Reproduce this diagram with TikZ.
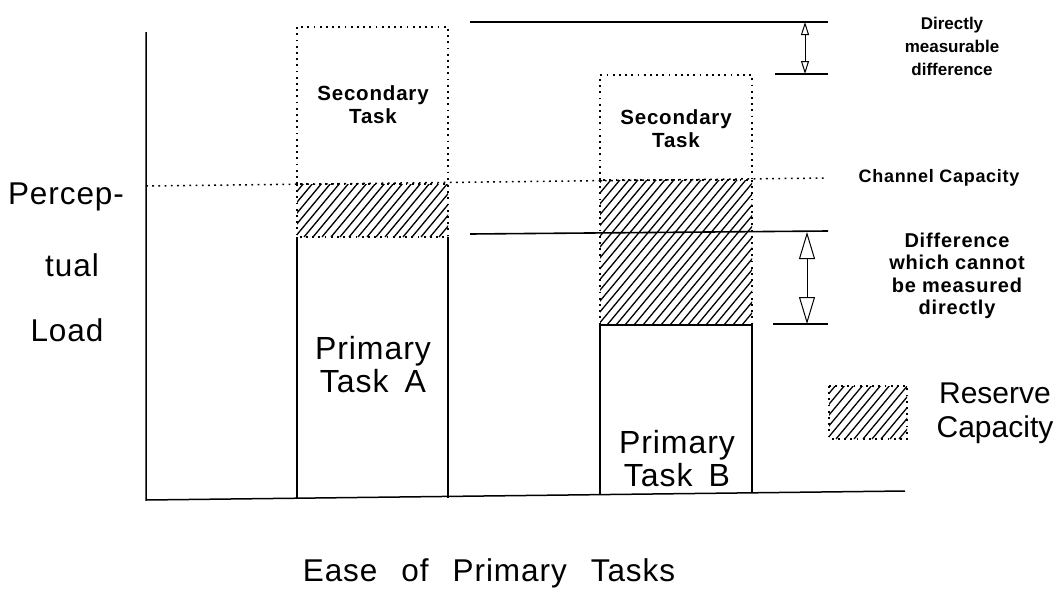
\documentclass[tikz,border=0pt]{standalone}
\usepackage{fontspec}
\setmainfont{Liberation Sans}
\newfontfamily\widefont[LetterSpace=3]{Liberation Sans}
\newfontfamily\medfont[LetterSpace=4]{Liberation Sans}
\usetikzlibrary{arrows.meta}
\tikzset{
  dotline/.style={line width=1.5pt, dash pattern=on 1.8pt off 4.4pt},
  hatchline/.style={line width=1.3pt},
  solidline/.style={line width=1.6pt},
  smalllabel/.style={font=\bfseries\fontsize{17}{23}\selectfont, align=center, inner sep=0pt},
  midlabel/.style={font=\medfont\bfseries\fontsize{20.5}{23}\selectfont, align=center, inner sep=0pt},
  biglabel/.style={font=\widefont\fontsize{32}{33}\selectfont, align=center, inner sep=0pt},
  axlabel/.style={font=\widefont\fontsize{31.5}{33}\selectfont, inner sep=0pt},
  smallarrow/.style={{Triangle[open,length=13pt,width=8pt]}-{Triangle[open,length=13pt,width=8pt]}, line width=1pt},
  bigarrow/.style={{Triangle[open,length=27pt,width=16pt]}-{Triangle[open,length=27pt,width=16pt]}, line width=1pt}
}
\newcommand\hatchbox[4]{%
  \begin{scope}
    \clip (#1,#2) rectangle (#3,#4);
    \foreach \k in {-200,-191,...,200}{\draw[hatchline] (#1+\k,#4) -- ++(150,-180);}
  \end{scope}
  \draw[dotline] (#1,#2) rectangle (#3,#4);
}
\begin{document}
\begin{tikzpicture}[x=1pt,y=-1pt]
\useasboundingbox[fill=white] (0,0) rectangle (1062,589);

% hatched reserve regions
\hatchbox{297}{184}{448}{237}
\hatchbox{600}{180}{752}{325}

% axes
\coordinate (ytop) at (146,32);
\coordinate (origin) at (146,500);
\coordinate (xend) at (905,491);
\draw[line width=1.5pt] (ytop) -- (origin) -- (xend);

% channel capacity line
\coordinate (chL) at (146,186);
\coordinate (chR) at (826,178);
\draw[dotline] (chL) -- (chR);

% bar A
\draw[dotline] (297,184) -- (297,27) -- (448,27) -- (448,184);
\draw[solidline] (297,499) -- (297,237);
\draw[solidline] (448,498) -- (448,237);

% bar B
\draw[dotline] (600,180) -- (600,75) -- (752,75) -- (752,180);
\draw[solidline] (600,494) -- (600,325) -- (752,325) -- (752,492);

% reference lines
\coordinate (t1L) at (470,22);  \coordinate (t1R) at (828,22);
\coordinate (t2L) at (775,74);  \coordinate (t2R) at (828,74);
\coordinate (t3L) at (470,234); \coordinate (t3R) at (828,231);
\coordinate (t4L) at (773,324); \coordinate (t4R) at (828,324);
\draw[solidline] (t1L) -- (t1R);
\draw[solidline] (t2L) -- (t2R);
\draw[solidline] (t3L) -- (t3R);
\draw[solidline] (t4L) -- (t4R);

% arrows
\coordinate (a1) at (805,22); \coordinate (a2) at (805,74);
\coordinate (b1) at (807,232); \coordinate (b2) at (807,324);
\draw[smallarrow] (a1) -- (a2);
\draw[bigarrow] (b1) -- (b2);

% legend
\hatchbox{829}{386}{907}{439}
\node[align=center, inner sep=0pt, font=\fontsize{30}{34}\selectfont] (reserve) at (995,413) {Reserve\\Capacity};

% labels
\node[midlabel] (secA) at (373,105) {Secondary\\Task};
\node[midlabel] (secB) at (676,129) {Secondary\\Task};
\node[biglabel] (primA) at (373,365) {Primary\\Task\hspace{0.5em}A};
\node[biglabel] (primB) at (677,459) {Primary\\Task\hspace{0.5em}B};

\node[smalllabel] (dmd) at (952,46) {Directly\\measurable\\difference};
\node[inner sep=0pt, font=\medfont\bfseries\fontsize{18}{22}\selectfont] (chcap) at (939,178) {Channel\hspace{0.3em}Capacity};
\node[midlabel, font=\medfont\bfseries\fontsize{20}{22.5}\selectfont] (diff) at (957,276) {Difference\\which\hspace{0.3em}cannot\\be\hspace{0.3em}measured\\directly};

\node[axlabel] (p1) at (66,197) {Percep-};
\node[axlabel] (p2) at (72,265) {tual};
\node[axlabel] (p3) at (67,330) {Load};

\node[axlabel] (xlab) at (489,573) {Ease\hspace{24pt}of\hspace{24pt}Primary\hspace{24pt}Tasks};
\end{tikzpicture}
\end{document}
